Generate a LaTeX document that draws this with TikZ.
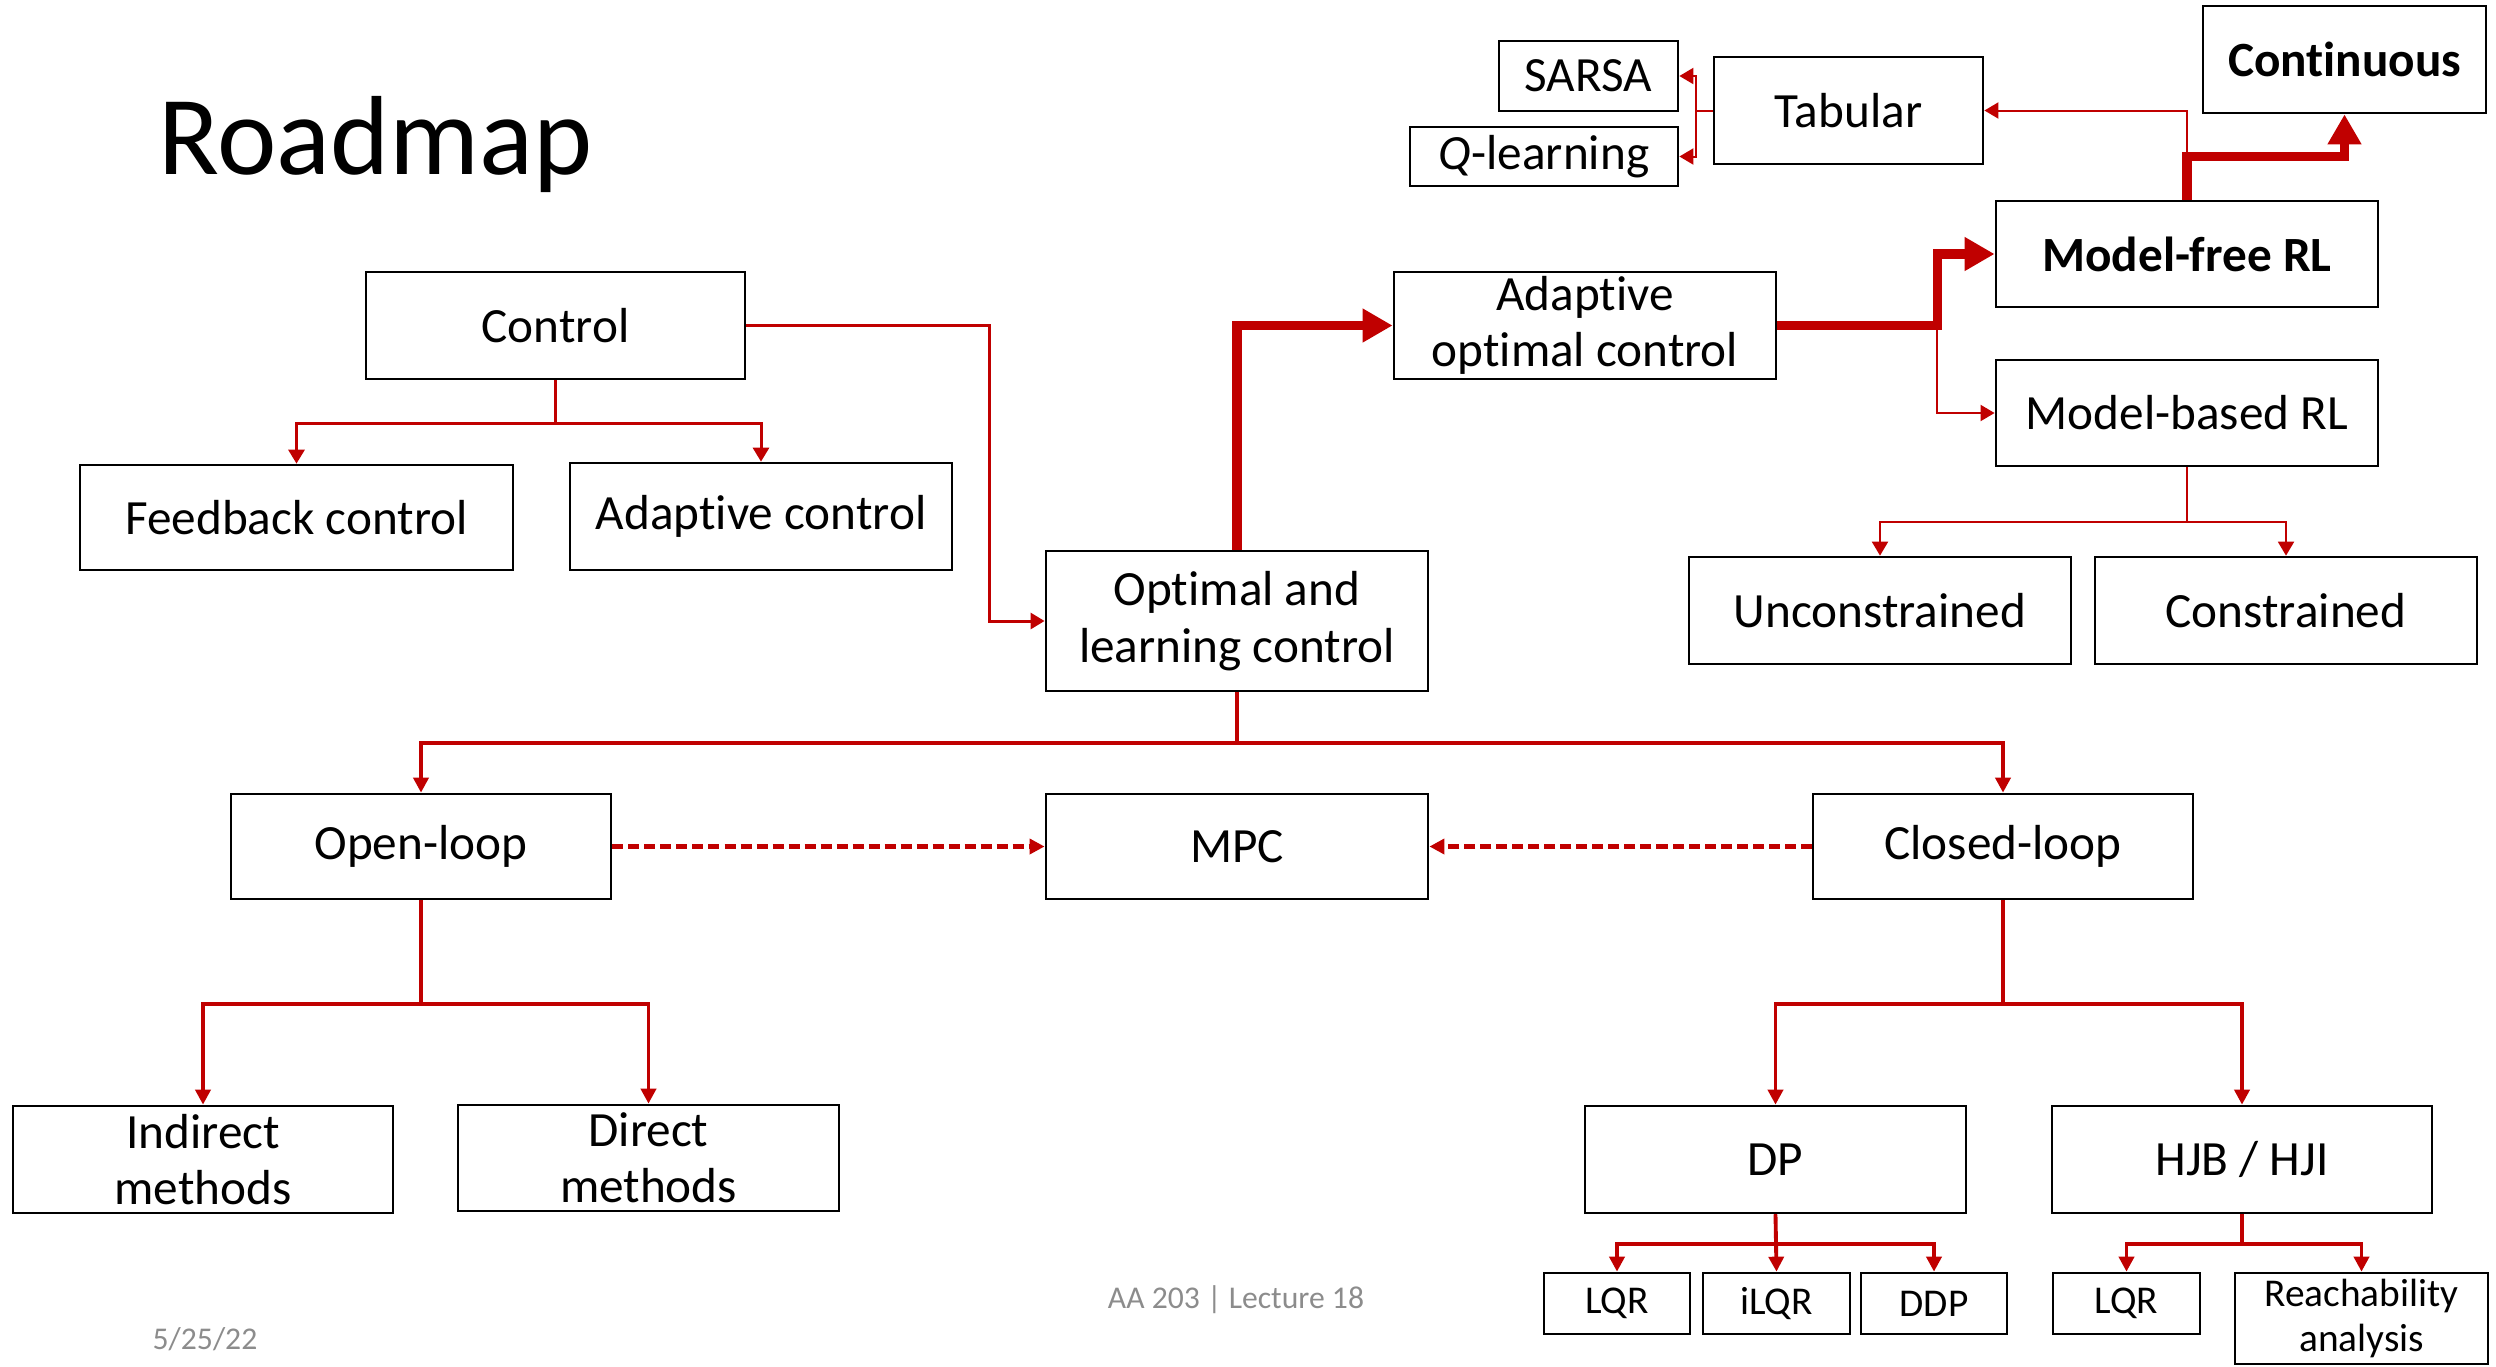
\documentclass[tikz,border=0pt]{standalone}
\usepackage{fontspec}
\setmainfont[Ligatures=NoCommon]{Carlito}
\usepackage{tikz}
\usetikzlibrary{arrows.meta}
\definecolor{darkred}{HTML}{C00000}
\definecolor{footgray}{HTML}{8C8C8C}

\begin{document}
\begin{tikzpicture}[
  x=0.01cm,y=-0.01cm,
  block/.style={draw,line width=0.75pt,inner sep=0pt,align=center,
    minimum width=3.82cm,minimum height=1.07cm,font=\fontsize{14}{16}\selectfont},
  smallblock/.style={block,minimum width=1.46cm,minimum height=0.61cm,font=\fontsize{11.2}{12.7}\selectfont},
  bold/.style={font=\fontsize{14}{16}\selectfont\bfseries},
  link/.style={darkred,line width=0.85pt,-{Triangle[length=0.14cm,width=0.16cm]}},
  finelink/.style={link,line width=0.57pt},
  branch/.style={link,line width=1.1pt,-{Triangle[length=0.15cm,width=0.15cm]}},
  fatlink/.style={darkred,line width=2.7pt,-{Triangle[length=0.3cm,width=0.32cm]}},
  dashlink/.style={branch,line width=1.2pt,dash pattern=on 0.11cm off 0.05cm},
  foot/.style={footgray,inner sep=0pt,font=\fontsize{9}{11}\selectfont}]

  \useasboundingbox (0,0) rectangle (2496,1366);

  % Title and footer
  \node[anchor=base west,inner sep=0pt,font=\fontsize{32}{36}\selectfont] (Title) at (158,174) {Roadmap};
  \node[foot] (Lect) at (1236,1300) {AA 203 | Lecture 18};
  \node[foot] (Date) at (205,1339) {5/25/22};

  % Position the nodes at their places on the slide
  \node[block,minimum width=3.79cm] (Ctrl) at (555.5,325.5) {Control};
  \node[block,minimum width=4.33cm,minimum height=1.05cm] (FB) at (296.5,517.5) {Feedback control};
  \node[block] (AC) at (761,516.5) {Adaptive control};
  \node[block,minimum height=1.4cm] (OLC) at (1237,621) {Optimal and\\learning control};
  \node[block] (AOC) at (1585,325.5) {Adaptive\\optimal control};
  \node[block,minimum width=2.69cm] (Tab) at (1848.5,110.5) {Tabular};
  \node[block,minimum width=1.79cm,minimum height=0.7cm] (SARSA) at (1588.5,76) {SARSA};
  \node[block,minimum width=2.68cm,minimum height=0.59cm] (QL) at (1544,156.5) {\textit{Q}-learning};
  \node[block,bold,minimum width=2.83cm] (Cont) at (2344.5,59.5) {Continuous};
  \node[block,bold,minimum height=1.06cm] (MFRL) at (2187,254) {Model-free RL};
  \node[block,minimum height=1.06cm] (MBRL) at (2187,413) {Model-based RL};
  \node[block] (Unc) at (1880,610.5) {Unconstrained};
  \node[block] (Con) at (2286,610.5) {Constrained};
  \node[block,minimum width=3.8cm,minimum height=1.05cm] (OL) at (421,846.5) {Open-loop};
  \node[block,minimum height=1.05cm] (MPC) at (1237,846.5) {MPC};
  \node[block,minimum width=3.8cm,minimum height=1.05cm] (CL) at (2003,846.5) {Closed-loop};
  \node[block,minimum width=3.8cm] (Ind) at (203,1159.5) {Indirect\\methods};
  \node[block,minimum width=3.81cm,minimum height=1.06cm] (Dir) at (648.5,1158) {Direct\\methods};
  \node[block,minimum width=3.81cm] (DP) at (1775.5,1159.5) {DP};
  \node[block,minimum width=3.8cm] (HJB) at (2242,1159.5) {HJB / HJI};
  \node[smallblock] (LQRa) at (1617,1303.5) {LQR};
  \node[smallblock,minimum width=1.47cm] (iLQR) at (1776.5,1303.5) {iLQR};
  \node[smallblock] (DDP) at (1934,1303.5) {DDP};
  \node[smallblock,minimum width=1.47cm] (LQRb) at (2126.5,1303.5) {LQR};
  \node[smallblock,minimum width=2.53cm,minimum height=0.91cm] (Reach) at (2361.5,1318.5) {Reachability\\analysis};

  % Draw the connectors between the nodes
  \draw[link] (Ctrl.south) -- ++(0,43) -| (FB.north);
  \draw[link] (Ctrl.south) -- ++(0,43) -| (AC.north);
  \draw[link] (Ctrl.east) -- ++(243,0) |- (OLC.west);

  \draw[fatlink] (OLC.north) |- (AOC.west);
  \draw[fatlink] (AOC.east) -- ++(160,0) coordinate (RLsplit) |- (MFRL.west);
  \draw[finelink] (RLsplit) |- (MBRL.west);
  \draw[fatlink] (MFRL.north) -- ++(0,-43) coordinate (MFsplit) -| (Cont.south);
  \draw[finelink] (MFsplit) |- (Tab.east);
  \draw[finelink] (Tab.west) -- ++(-17,0) coordinate (Tabsplit) |- (SARSA.east);
  \draw[finelink] (Tabsplit) |- (QL.east);
  \draw[finelink] (MBRL.south) -- ++(0,55) -| (Unc.north);
  \draw[finelink] (MBRL.south) -- ++(0,55) -| (Con.north);

  \draw[branch] (OLC.south) -- ++(0,51) -| (OL.north);
  \draw[branch] (OLC.south) -- ++(0,51) -| (CL.north);
  \draw[dashlink] (OL.east) -- (MPC.west);
  \draw[dashlink] (CL.west) -- (MPC.east);

  \draw[branch] (OL.south) -- ++(0,104) -| (Ind.north);
  \draw[branch] (OL.south) -- ++(0,104) -| (Dir.north);
  \draw[branch] (CL.south) -- ++(0,104) -| (DP.north);
  \draw[branch] (CL.south) -- ++(0,104) -| (HJB.north);

  \draw[branch] (DP.south) -- ++(0,30) -| (LQRa.north);
  \draw[branch] (DP.south) -- (iLQR.north);
  \draw[branch] (DP.south) -- ++(0,30) -| (DDP.north);
  \draw[branch] (HJB.south) -- ++(0,30) -| (LQRb.north);
  \draw[branch] (HJB.south) -- ++(0,30) -| (Reach.north);
\end{tikzpicture}
\end{document}
